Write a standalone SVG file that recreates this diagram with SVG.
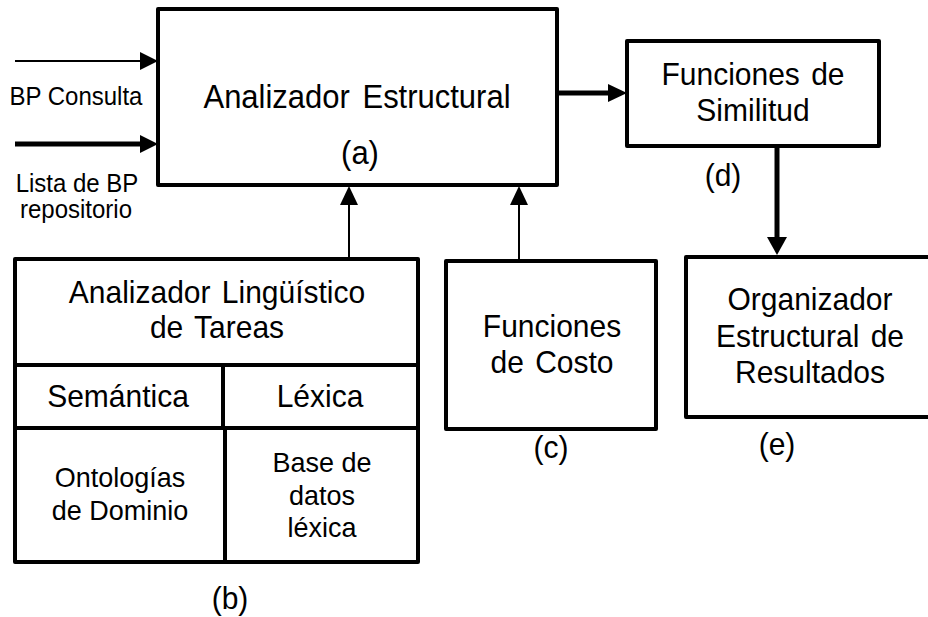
<svg xmlns="http://www.w3.org/2000/svg" width="928" height="617" viewBox="0 0 928 617">
<style>
.box{fill:#fff;stroke:#000;stroke-width:4;stroke-linejoin:round}
.ln{stroke:#000;stroke-width:4;fill:none}
.thin{stroke:#000;stroke-width:2;fill:none}
.thick{stroke:#000;stroke-width:5;fill:none}
.head{fill:#000}
text{font-family:"Liberation Sans",Arial,sans-serif;fill:#000;text-anchor:middle}
.t30{font-size:30px;word-spacing:3px}
.t31{font-size:31px;word-spacing:4px}
.t27{font-size:27px}
.t24{font-size:24px}
</style>
<rect width="928" height="617" fill="#fff"/>
<g id="connectors">
<line class="thin" x1="15" y1="61" x2="145" y2="61"/>
<polygon class="head" points="140,52 158,61 140,70"/>
<line class="thick" x1="15" y1="144" x2="145" y2="144"/>
<polygon class="head" points="140,135 158,144 140,153"/>
<line class="thick" x1="557" y1="93" x2="612" y2="93"/>
<polygon class="head" points="608,84 627,93 608,102"/>
<line class="thick" x1="777" y1="146" x2="777" y2="242"/>
<polygon class="head" points="767,237 777,255 787,237"/>
<line class="thin" x1="349" y1="259" x2="349" y2="200"/>
<polygon class="head" points="340,205 349,186 358,205"/>
<line class="thin" x1="519" y1="261" x2="519" y2="200"/>
<polygon class="head" points="510,205 519,186 528,205"/>
</g>
<g id="inputs">
<text class="t24" transform="translate(76,105) scale(1,1.07)">BP Consulta</text>
<text class="t24" transform="translate(77,192) scale(1,1.07)">Lista de BP</text>
<text class="t24" transform="translate(76,218) scale(1,1.07)">repositorio</text>
</g>
<g id="node-a">
<rect class="box" x="158" y="9" width="399" height="176"/>
<text class="t31" transform="translate(357,108) scale(1,1.05)">Analizador Estructural</text>
<text class="t31" transform="translate(360,164) scale(1,1.05)">(a)</text>
</g>
<g id="node-d">
<rect class="box" x="627" y="41" width="252" height="105"/>
<text class="t30" transform="translate(753,85) scale(1,1.05)">Funciones de</text>
<text class="t30" transform="translate(753,121) scale(1,1.05)">Similitud</text>
<text class="t30" transform="translate(723,186) scale(1,1.05)">(d)</text>
</g>
<g id="node-b">
<rect class="box" x="15" y="259" width="403" height="303"/>
<line class="ln" x1="15" y1="365" x2="418" y2="365"/>
<line class="ln" x1="15" y1="428" x2="418" y2="428"/>
<line class="ln" x1="223" y1="365" x2="223" y2="428"/>
<line class="ln" x1="225" y1="428" x2="225" y2="563"/>
<text class="t30" transform="translate(217,303) scale(1,1.05)">Analizador Lingüístico</text>
<text class="t30" transform="translate(217,338) scale(1,1.05)">de Tareas</text>
<text class="t30" transform="translate(118,407) scale(1,1.05)">Semántica</text>
<text class="t30" transform="translate(320,407) scale(1,1.05)">Léxica</text>
<text class="t27" transform="translate(120,487) scale(1,1.05)">Ontologías</text>
<text class="t27" transform="translate(120,520) scale(1,1.05)">de Dominio</text>
<text class="t27" transform="translate(322,472) scale(1,1.05)">Base de</text>
<text class="t27" transform="translate(322,505) scale(1,1.05)">datos</text>
<text class="t27" transform="translate(322,537) scale(1,1.05)">léxica</text>
<text class="t30" transform="translate(230,609) scale(1,1.05)">(b)</text>
</g>
<g id="node-c">
<rect class="box" x="446" y="261" width="210" height="168"/>
<text class="t30" transform="translate(552,337) scale(1,1.05)">Funciones</text>
<text class="t30" transform="translate(552,373) scale(1,1.05)">de Costo</text>
<text class="t30" transform="translate(551,458) scale(1,1.05)">(c)</text>
</g>
<g id="node-e">
<rect class="box" x="686" y="257" width="250" height="160"/>
<text class="t30" transform="translate(810,310) scale(1,1.05)">Organizador</text>
<text class="t30" transform="translate(810,347) scale(1,1.05)">Estructural de</text>
<text class="t30" transform="translate(810,383) scale(1,1.05)">Resultados</text>
<text class="t30" transform="translate(777,455) scale(1,1.05)">(e)</text>
</g>
</svg>
